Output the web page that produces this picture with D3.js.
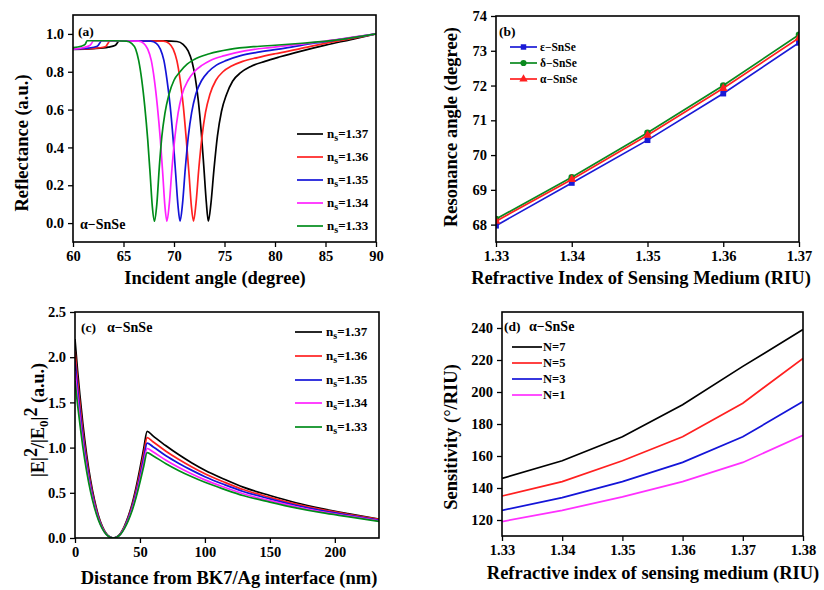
<!DOCTYPE html>
<html>
<head>
<meta charset="utf-8">
<script src="https://cdn.jsdelivr.net/npm/d3@7"></script>
<style>
  body { margin: 0; background: #fff; }
  svg { font-family: "Liberation Serif", "Times New Roman", serif; font-weight: bold; }
</style>
</head>
<body>
<div id="chart"></div>
<script>
// ---- (a) reflectance vs incident angle, [angle, R]
const refl137 = [[60,0.918],[62,0.922],[63.5,0.93],[64.2,0.94],[64.6,0.964],[66,0.964],[69,0.963],[70.3,0.96],[70.9,0.945],[71.4,0.91],[71.8,0.85],[72.1,0.77],[72.4,0.65],[72.7,0.48],[72.95,0.30],[73.2,0.11],[73.4,0.01],[73.65,0.10],[73.95,0.28],[74.3,0.46],[74.7,0.59],[75.2,0.68],[75.8,0.75],[76.6,0.795],[77.6,0.828],[79,0.855],[80.5,0.879],[82.5,0.908],[85,0.941],[87.5,0.97],[90,1.0]];
const refl136 = [[60,0.919],[62,0.923],[63.2,0.932],[63.69,0.964],[66,0.964],[68.95,0.962],[69.5,0.95],[69.92,0.92],[70.28,0.86],[70.6,0.76],[70.92,0.62],[71.22,0.44],[71.5,0.25],[71.72,0.09],[71.93,0.01],[72.17,0.10],[72.46,0.29],[72.78,0.46],[73.12,0.585],[73.55,0.68],[74.15,0.755],[74.85,0.80],[75.7,0.83],[76.8,0.855],[78.3,0.875],[80,0.895],[82.5,0.922],[85,0.95],[87.5,0.975],[90,1.0]];
const refl135 = [[60,0.92],[61.5,0.925],[62.4,0.935],[62.87,0.964],[65,0.964],[67.7,0.962],[68.25,0.95],[68.65,0.92],[69.0,0.86],[69.3,0.76],[69.62,0.62],[69.92,0.44],[70.18,0.25],[70.4,0.09],[70.6,0.01],[70.84,0.10],[71.12,0.29],[71.42,0.46],[71.75,0.585],[72.15,0.68],[72.75,0.755],[73.4,0.80],[74.2,0.835],[75.2,0.86],[76.6,0.885],[78.5,0.905],[81,0.925],[84,0.952],[87,0.975],[90,1.0]];
const refl134 = [[60,0.92],[61,0.927],[61.7,0.94],[62.05,0.964],[64,0.964],[66.5,0.962],[67.0,0.95],[67.4,0.92],[67.75,0.86],[68.05,0.76],[68.35,0.62],[68.65,0.44],[68.9,0.25],[69.1,0.09],[69.3,0.01],[69.53,0.10],[69.8,0.29],[70.1,0.46],[70.4,0.58],[70.8,0.68],[71.4,0.755],[72.0,0.80],[72.8,0.835],[73.6,0.86],[75,0.885],[77,0.91],[79.5,0.928],[82,0.943],[85,0.962],[90,1.0]];
const refl133 = [[60,0.928],[60.8,0.935],[61.2,0.945],[61.4,0.964],[62,0.964],[64,0.964],[65.3,0.962],[65.8,0.95],[66.2,0.92],[66.5,0.86],[66.8,0.76],[67.1,0.62],[67.4,0.44],[67.65,0.25],[67.85,0.09],[68.07,0.01],[68.3,0.10],[68.55,0.30],[68.8,0.46],[69.1,0.58],[69.5,0.68],[70.0,0.755],[70.6,0.80],[71.3,0.84],[72,0.865],[73.5,0.895],[75.5,0.918],[78,0.933],[80,0.94],[83,0.952],[86,0.967],[90,1.0]];
const nsLabels = ["1.37", "1.36", "1.35", "1.34", "1.33"];
const nsColors = ["#000000", "#ff2020", "#1414d8", "#ff20ff", "#008c1a"];

// ---- (b) resonance angle vs RI
const riB = [1.33, 1.34, 1.35, 1.36, 1.37];
const angleEps = [67.97, 69.2, 70.43, 71.77, 73.23];
const angleDelta = [68.16, 69.36, 70.64, 72.0, 73.46];
const angleAlpha = [68.1, 69.3, 70.57, 71.92, 73.37];

// ---- (c) field intensity vs distance
const distNm = [0,2,4,6,9,12,15,18,21,24,27,29.5,32,35,38,41,44,47,50,53,55.5,60,70,80,90,100,115,130,150,170,190,210,234];
const field137 = [2.2,1.85,1.55,1.27,0.92,0.64,0.42,0.25,0.13,0.05,0.01,0,0.01,0.05,0.13,0.24,0.38,0.56,0.77,1.0,1.18,1.13,1.02,0.92,0.83,0.75,0.65,0.56,0.47,0.39,0.325,0.27,0.21];
const field136 = [2.07,1.74,1.46,1.19,0.865,0.60,0.395,0.235,0.122,0.047,0.009,0,0.009,0.047,0.122,0.225,0.357,0.526,0.724,0.94,1.11,1.065,0.96,0.868,0.785,0.71,0.617,0.533,0.45,0.375,0.313,0.262,0.205];
const field135 = [1.96,1.65,1.38,1.13,0.82,0.57,0.374,0.222,0.116,0.045,0.009,0,0.009,0.045,0.116,0.214,0.338,0.498,0.685,0.89,1.05,1.01,0.91,0.825,0.748,0.678,0.59,0.512,0.433,0.362,0.303,0.254,0.198];
const field134 = [1.85,1.555,1.30,1.067,0.773,0.538,0.353,0.21,0.109,0.042,0.008,0,0.008,0.042,0.109,0.202,0.32,0.47,0.647,0.84,0.99,0.953,0.86,0.78,0.708,0.643,0.561,0.487,0.413,0.346,0.29,0.244,0.19];
const field133 = [1.74,1.47,1.235,1.01,0.735,0.51,0.335,0.2,0.104,0.04,0.008,0,0.008,0.04,0.104,0.192,0.304,0.448,0.616,0.80,0.945,0.91,0.822,0.745,0.677,0.616,0.538,0.467,0.397,0.333,0.28,0.236,0.183];

// ---- (d) sensitivity vs RI
const riD = [1.33, 1.34, 1.35, 1.36, 1.37, 1.38];
const sensN7 = [146, 157, 172, 192, 216, 239];
const sensN5 = [135, 144, 157, 172, 193, 221];
const sensN3 = [126, 134, 144, 156, 172, 194];
const sensN1 = [119, 126, 134.5, 144, 156, 173];
const nLabels = ["N=7", "N=5", "N=3", "N=1"];
const nColors = ["#000000", "#ff2020", "#1414d8", "#ff30ff"];

const svg = d3.select("#chart").append("svg")
  .attr("width", 824).attr("height", 590);

// builds one framed panel with outward major + minor ticks
function makePanel(p) {
  const x = d3.scaleLinear().domain(p.xDomain).range([p.left, p.right]);
  const y = d3.scaleLinear().domain(p.yDomain).range([p.bottom, p.top]);
  const g = svg.append("g");

  const clipId = "clip" + p.name;
  svg.append("clipPath").attr("id", clipId).append("rect")
    .attr("x", p.left).attr("y", p.top)
    .attr("width", p.right - p.left).attr("height", p.bottom - p.top);
  const plot = g.append("g").attr("clip-path", `url(#${clipId})`);

  const xa = g.append("g").attr("transform", `translate(0,${p.bottom})`);
  xa.call(d3.axisBottom(x).tickValues(p.xMinor).tickSize(3).tickFormat(""));
  xa.call(d3.axisBottom(x).tickValues(p.xTicks).tickSize(5).tickPadding(4).tickFormat(p.xFmt));
  const ya = g.append("g").attr("transform", `translate(${p.left},0)`);
  ya.call(d3.axisLeft(y).tickValues(p.yMinor).tickSize(3).tickFormat(""));
  ya.call(d3.axisLeft(y).tickValues(p.yTicks).tickSize(5).tickPadding(4).tickFormat(p.yFmt));
  g.selectAll(".domain").remove();
  g.selectAll(".tick line").attr("stroke", "#000").attr("stroke-width", 1.3);
  g.selectAll(".tick text").attr("font-size", 14.5).attr("fill", "#000")
    .attr("font-family", "Liberation Serif").attr("font-weight", "bold");

  g.append("rect").attr("x", p.left).attr("y", p.top)
    .attr("width", p.right - p.left).attr("height", p.bottom - p.top)
    .attr("fill", "none").attr("stroke", "#000").attr("stroke-width", 1.6);
  return { x, y, plot, g };
}

function nsText(sel, x, y, val) {
  const t = sel.append("text").attr("x", x).attr("y", y).attr("font-size", 13);
  t.append("tspan").text("n");
  t.append("tspan").attr("font-size", 10).attr("dy", 3).text("s");
  t.append("tspan").attr("dy", -3).text("=" + val);
}

// ================= (a)
const pa = makePanel({
  name: "a", left: 73, right: 376, top: 15, bottom: 242,
  xDomain: [60, 90], yDomain: [-0.1, 1.1],
  xTicks: d3.range(60, 91, 5), xMinor: d3.range(62.5, 90, 5),
  yTicks: [0, 0.2, 0.4, 0.6, 0.8, 1.0], yMinor: [-0.1, 0.1, 0.3, 0.5, 0.7, 0.9, 1.1],
  xFmt: d3.format("d"), yFmt: d3.format(".1f")
});
const lineA = d3.line().x(d => pa.x(d[0])).y(d => pa.y(d[1])).curve(d3.curveMonotoneX);
[refl137, refl136, refl135, refl134, refl133].forEach((s, i) => {
  pa.plot.append("path").attr("d", lineA(s)).attr("fill", "none")
    .attr("stroke", nsColors[i]).attr("stroke-width", 1.7);
});
const legA = [134, 157, 180, 203, 226];
nsLabels.forEach((lab, i) => {
  svg.append("line").attr("x1", 297).attr("x2", 323).attr("y1", legA[i]).attr("y2", legA[i])
    .attr("stroke", nsColors[i]).attr("stroke-width", 1.7);
  nsText(svg, 327, legA[i] + 4, lab);
});
svg.append("text").attr("x", 78).attr("y", 36).attr("font-size", 13.5).text("(a)");
svg.append("text").attr("x", 80).attr("y", 229).attr("font-size", 14).text("α−SnSe");
svg.append("text").attr("x", 215).attr("y", 284).attr("font-size", 18.5).attr("text-anchor", "middle")
  .text("Incident angle (degree)");
svg.append("text").attr("transform", "translate(28,143) rotate(-90)").attr("font-size", 18.5)
  .attr("text-anchor", "middle").text("Reflectance (a.u.)");

// ================= (b)
const pb = makePanel({
  name: "b", left: 496, right: 799, top: 16, bottom: 242,
  xDomain: [1.33, 1.37], yDomain: [67.5, 74],
  xTicks: riB, xMinor: [1.335, 1.345, 1.355, 1.365],
  yTicks: d3.range(68, 75, 1), yMinor: d3.range(67.5, 74, 1),
  xFmt: d3.format(".2f"), yFmt: d3.format("d")
});
const seriesB = [
  { vals: angleEps, color: "#1a1ad6", shape: d3.symbolSquare, label: "ε−SnSe" },
  { vals: angleDelta, color: "#0a8a1e", shape: d3.symbolCircle, label: "δ−SnSe" },
  { vals: angleAlpha, color: "#ff2020", shape: d3.symbolTriangle, label: "α−SnSe" }
];
const lineB = d3.line().x(d => pb.x(d[0])).y(d => pb.y(d[1]));
seriesB.forEach(s => {
  const pts = riB.map((r, i) => [r, s.vals[i]]);
  pb.plot.append("path").attr("d", lineB(pts)).attr("fill", "none")
    .attr("stroke", s.color).attr("stroke-width", 1.7);
  pb.plot.selectAll(null).data(pts).enter().append("path")
    .attr("transform", d => `translate(${pb.x(d[0])},${pb.y(d[1])})`)
    .attr("d", d3.symbol().type(s.shape).size(34)).attr("fill", s.color);
});
const legB = [47, 63, 79];
seriesB.forEach((s, i) => {
  svg.append("line").attr("x1", 510).attr("x2", 537).attr("y1", legB[i]).attr("y2", legB[i])
    .attr("stroke", s.color).attr("stroke-width", 1.7);
  svg.append("path").attr("transform", `translate(523.5,${legB[i]})`)
    .attr("d", d3.symbol().type(s.shape).size(30)).attr("fill", s.color);
  svg.append("text").attr("x", 540).attr("y", legB[i] + 4).attr("font-size", 11.5).text(s.label);
});
svg.append("text").attr("x", 499).attr("y", 36).attr("font-size", 13.5).text("(b)");
svg.append("text").attr("x", 641).attr("y", 284).attr("font-size", 18.5).attr("text-anchor", "middle")
  .text("Refractive Index of Sensing Medium (RIU)");
svg.append("text").attr("transform", "translate(457,127) rotate(-90)").attr("font-size", 18.5)
  .attr("text-anchor", "middle").text("Resonance angle (degree)");

// ================= (c)
const pc = makePanel({
  name: "c", left: 75, right: 379, top: 312, bottom: 538,
  xDomain: [0, 234], yDomain: [0, 2.5],
  xTicks: d3.range(0, 201, 50), xMinor: [25, 75, 125, 175, 225],
  yTicks: [0, 0.5, 1.0, 1.5, 2.0, 2.5], yMinor: [0.25, 0.75, 1.25, 1.75, 2.25],
  xFmt: d3.format("d"), yFmt: d3.format(".1f")
});
const lineC = d3.line().x(d => pc.x(d[0])).y(d => pc.y(d[1])).curve(d3.curveMonotoneX);
[field137, field136, field135, field134, field133].forEach((s, i) => {
  const pts = distNm.map((d, j) => [d, s[j]]);
  pc.plot.append("path").attr("d", lineC(pts)).attr("fill", "none")
    .attr("stroke", nsColors[i]).attr("stroke-width", 1.7);
});
const legC = [332, 356, 380, 403, 427];
nsLabels.forEach((lab, i) => {
  svg.append("line").attr("x1", 295).attr("x2", 322).attr("y1", legC[i]).attr("y2", legC[i])
    .attr("stroke", nsColors[i]).attr("stroke-width", 1.7);
  nsText(svg, 326, legC[i] + 4, lab);
});
svg.append("text").attr("x", 81).attr("y", 332).attr("font-size", 13.5).text("(c)");
svg.append("text").attr("x", 107).attr("y", 332).attr("font-size", 14).text("α−SnSe");
svg.append("text").attr("x", 229).attr("y", 584).attr("font-size", 18.5).attr("text-anchor", "middle")
  .text("Distance from BK7/Ag interface (nm)");
const ctitle = svg.append("text").attr("transform", "translate(44,420) rotate(-90)")
  .attr("font-size", 18).attr("text-anchor", "middle");
ctitle.append("tspan").text("|E|");
ctitle.append("tspan").attr("dy", -7).attr("font-size", 18).text("2");
ctitle.append("tspan").attr("dy", 7).text("/|E");
ctitle.append("tspan").attr("dy", 4).attr("font-size", 13).text("0");
ctitle.append("tspan").attr("dy", -4).text("|");
ctitle.append("tspan").attr("dy", -7).attr("font-size", 18).text("2");
ctitle.append("tspan").attr("dy", 7).text(" (a.u.)");

// ================= (d)
const pd = makePanel({
  name: "d", left: 502, right: 803, top: 312, bottom: 536,
  xDomain: [1.33, 1.38], yDomain: [110, 250],
  xTicks: riD, xMinor: [1.335, 1.345, 1.355, 1.365, 1.375],
  yTicks: d3.range(120, 241, 20), yMinor: d3.range(110, 251, 20),
  xFmt: d3.format(".2f"), yFmt: d3.format("d")
});
const lineD = d3.line().x(d => pd.x(d[0])).y(d => pd.y(d[1]));
[sensN7, sensN5, sensN3, sensN1].forEach((s, i) => {
  const pts = riD.map((r, j) => [r, s[j]]);
  pd.plot.append("path").attr("d", lineD(pts)).attr("fill", "none")
    .attr("stroke", nColors[i]).attr("stroke-width", 1.7);
});
const legD = [347, 363, 379, 395];
nLabels.forEach((lab, i) => {
  svg.append("line").attr("x1", 512).attr("x2", 542).attr("y1", legD[i]).attr("y2", legD[i])
    .attr("stroke", nColors[i]).attr("stroke-width", 1.7);
  svg.append("text").attr("x", 543).attr("y", legD[i] + 4).attr("font-size", 12.5).text(lab);
});
svg.append("text").attr("x", 504).attr("y", 331).attr("font-size", 13.5).text("(d)");
svg.append("text").attr("x", 529).attr("y", 331).attr("font-size", 14).text("α−SnSe");
svg.append("text").attr("x", 653).attr("y", 579).attr("font-size", 18.5).attr("text-anchor", "middle")
  .text("Refractive index of sensing medium (RIU)");
svg.append("text").attr("transform", "translate(457,437) rotate(-90)").attr("font-size", 18.5)
  .attr("text-anchor", "middle").text("Sensitivity (°/RIU)");
</script>
</body>
</html>
